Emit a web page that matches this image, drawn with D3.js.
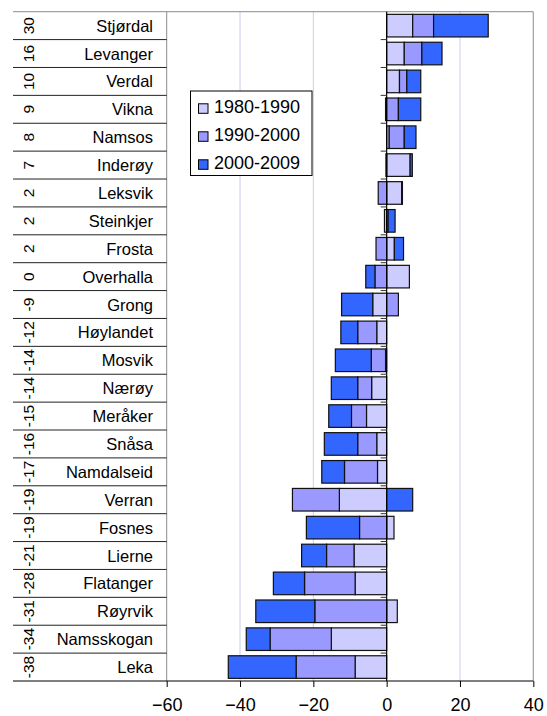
<!DOCTYPE html>
<html>
<head>
<meta charset="utf-8">
<script src="https://cdn.jsdelivr.net/npm/d3@7"></script>
<style>
  html, body { margin: 0; padding: 0; background: #fff; }
  svg { display: block; font-family: "Liberation Sans", Arial, sans-serif; }
</style>
</head>
<body>
<svg id="chart" width="547" height="716"></svg>
<script>
// ---- data ----
const categories = ["Stjørdal","Levanger","Verdal","Vikna","Namsos","Inderøy","Leksvik","Steinkjer","Frosta","Overhalla","Grong","Høylandet","Mosvik","Nærøy","Meråker","Snåsa","Namdalseid","Verran","Fosnes","Lierne","Flatanger","Røyrvik","Namsskogan","Leka"];
const totals = [30,16,10,9,8,7,2,2,2,0,-9,-12,-14,-14,-15,-16,-17,-19,-19,-21,-28,-31,-34,-38];
const seriesNames = ["1980-1990","1990-2000","2000-2009"];
const s1980 = [7.1,4.8,3.5,-0.3,0.7,6.4,4.1,-0.6,2.1,6.2,-3.8,-2.7,-0.3,-4.1,-5.5,-2.7,-2.5,-12.9,2.0,-8.9,-8.6,2.9,-15.1,-8.6];
const s1990 = [5.7,4.8,2.0,3.2,4.1,-0.2,-2.3,0.4,-2.9,-3.2,3.2,-5.2,-3.9,-3.8,-4.1,-5.2,-9.0,-12.8,-7.4,-7.5,-13.8,-19.6,-16.7,-16.1];
const s2000 = [14.9,5.5,3.8,6.1,3.2,0.6,0.2,1.9,2.5,-2.5,-8.5,-4.6,-9.8,-7.2,-6.2,-9.1,-6.2,7.1,-14.5,-6.8,-8.5,-16.1,-6.5,-18.5];
const xTicks = [-60,-40,-20,0,20,40];
const colors = ["#ccccff","#9999ff","#3366ff"];

// ---- layout ----
const svg = d3.select("#chart");
const plotTop = 11.7, plotBottom = 681;
const tableLeft = 13;
const x = d3.scaleLinear().domain([-60, 40]).range([166.7, 533.3]);
const rows = d3.scaleBand().domain(categories).range([plotTop, plotBottom]).padding(0);
const yb = d3.scaleBand().domain(categories).range([plotTop, plotBottom]).paddingInner(0.19).paddingOuter(0.095);
const font = "'Liberation Sans', Arial, sans-serif";

const table = categories.map((c, i) => ({ cat: c, a: s1980[i], b: s1990[i], c2: s2000[i] }));
const stack = d3.stack().keys(["a","b","c2"]).offset(d3.stackOffsetDiverging);
const stacked = stack(table);

// gridlines
svg.append("g").selectAll("line").data([-40,-20,20]).join("line")
  .attr("x1", d => x(d)).attr("x2", d => x(d))
  .attr("y1", plotTop).attr("y2", plotBottom)
  .attr("stroke", "#ccccf4").attr("stroke-width", 1);

// plot frame (left, top, right)
svg.append("line").attr("x1", x(-60)).attr("x2", x(-60)).attr("y1", plotTop).attr("y2", plotBottom)
  .attr("stroke", "#8c8c8c").attr("stroke-width", 1);
svg.append("line").attr("x1", x(40)).attr("x2", x(40)).attr("y1", plotTop).attr("y2", plotBottom)
  .attr("stroke", "#a0a0a0").attr("stroke-width", 1.2);
svg.append("line").attr("x1", tableLeft).attr("x2", x(40)).attr("y1", plotTop).attr("y2", plotTop)
  .attr("stroke", "#8c8c8c").attr("stroke-width", 1);

// table row lines
svg.append("g").selectAll("line").data(categories.slice(1)).join("line")
  .attr("x1", tableLeft).attr("x2", x(-60))
  .attr("y1", d => rows(d)).attr("y2", d => rows(d))
  .attr("stroke", "#222").attr("stroke-width", 1);

// bars
const gBars = svg.append("g");
stacked.forEach((layer, k) => {
  gBars.append("g").selectAll("rect").data(layer).join("rect")
    .attr("x", d => x(Math.min(d[0], d[1])))
    .attr("width", d => Math.abs(x(d[1]) - x(d[0])))
    .attr("y", d => yb(d.data.cat))
    .attr("height", yb.bandwidth())
    .attr("fill", colors[k])
    .attr("stroke", "#111").attr("stroke-width", 1.2);
});

// zero axis with ticks
const x0 = x(0);
svg.append("line").attr("x1", x0).attr("x2", x0).attr("y1", plotTop).attr("y2", plotBottom)
  .attr("stroke", "#000").attr("stroke-width", 1.2);
svg.append("g").selectAll("line").data(categories.slice(1)).join("line")
  .attr("x1", x0 - 6).attr("x2", x0)
  .attr("y1", d => rows(d)).attr("y2", d => rows(d))
  .attr("stroke", "#333").attr("stroke-width", 1);

// bottom axis
svg.append("line").attr("x1", tableLeft).attr("x2", x(40)).attr("y1", plotBottom).attr("y2", plotBottom)
  .attr("stroke", "#000").attr("stroke-width", 1.2);
const xAxis = d3.axisBottom(x).tickValues(xTicks).tickSize(6).tickPadding(14).tickFormat(d3.format("d"));
const ga = svg.append("g").attr("transform", `translate(0,${plotBottom})`).call(xAxis);
ga.select(".domain").remove();
ga.selectAll(".tick line").attr("stroke", "#000");
ga.selectAll(".tick text").attr("font-size", 18).attr("font-family", font).attr("fill", "#000")
  .attr("dy", null).attr("y", 30);

// category names
svg.append("g").selectAll("text").data(categories).join("text")
  .attr("x", 153).attr("y", d => rows(d) + rows.bandwidth() / 2 + 6)
  .attr("text-anchor", "end").attr("font-size", 16.5).attr("font-family", font)
  .text(d => d);

// rotated totals
svg.append("g").selectAll("text").data(categories).join("text")
  .attr("transform", (d) => `translate(33.5,${rows(d) + rows.bandwidth() / 2}) rotate(-90)`)
  .attr("text-anchor", "middle").attr("font-size", 15.5).attr("font-family", font)
  .text((d, i) => totals[i]);

// legend
const lg = svg.append("g");
lg.append("rect").attr("x", 190.5).attr("y", 91).attr("width", 121.5).attr("height", 84.5)
  .attr("fill", "#fff").attr("stroke", "#000").attr("stroke-width", 1);
seriesNames.forEach((name, i) => {
  const base = 113.3 + i * 28;
  lg.append("rect").attr("x", 198.5).attr("y", base - 9.5).attr("width", 9.5).attr("height", 9.5)
    .attr("fill", colors[i]).attr("stroke", "#000").attr("stroke-width", 1);
  lg.append("text").attr("x", 214).attr("y", base).attr("font-size", 18).attr("font-family", font)
    .text(name);
});
</script>
</body>
</html>
